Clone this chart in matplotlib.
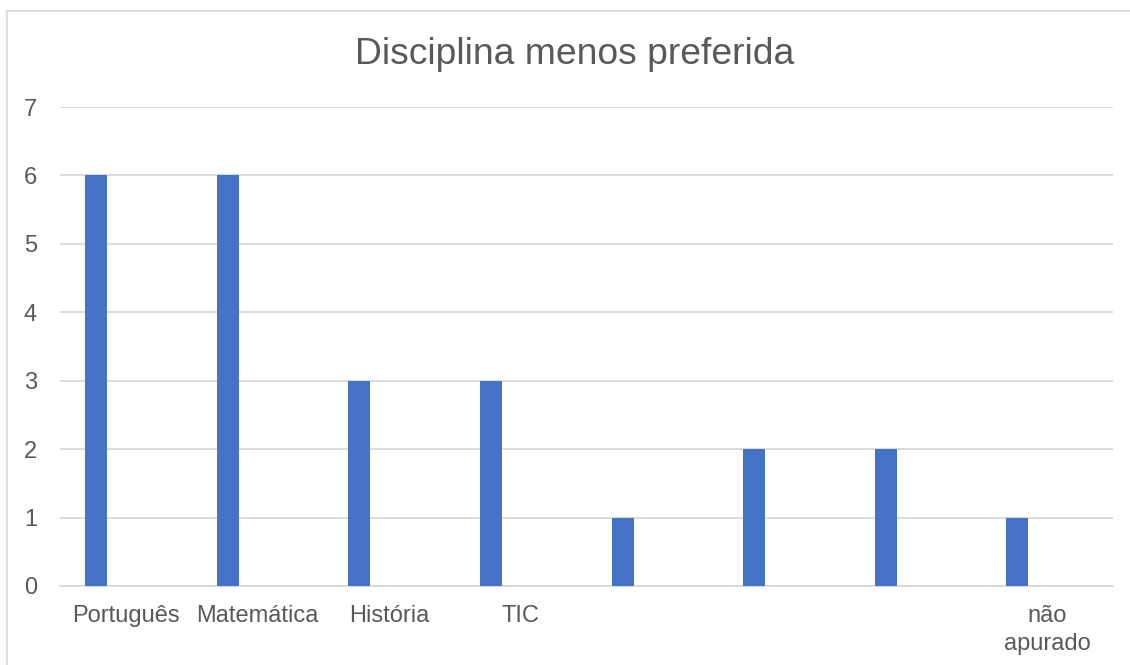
import matplotlib
matplotlib.use("Agg")
import matplotlib.pyplot as plt
from matplotlib.patches import Rectangle

categories = ["Português", "Matemática", "História", "TIC", "", "", "", "não\napurado"]
values = [6, 6, 3, 3, 1, 2, 2, 1]
yticks = [0, 1, 2, 3, 4, 5, 6, 7]
title = "Disciplina menos preferida"

plt.rcParams['font.family'] = ['Liberation Sans', 'DejaVu Sans']

W, H = 1130, 665
fig = plt.figure(figsize=(W / 100, H / 100), dpi=100)
fig.patch.set_facecolor("white")

# outer chart border (cropped on right/bottom)
fig.add_artist(Rectangle((7 / W, -0.05), 1.2, 1 - 11 / H + 0.05, transform=fig.transFigure,
                         fill=False, edgecolor="#D9D9D9", linewidth=1.3))

ax = fig.add_axes([60 / W, 1 - 586 / H, (1113 - 60) / W, (586 - 107) / H])
x = list(range(len(categories)))
bar_offset = -0.226
bar_w = 0.167
ax.bar([xi + bar_offset for xi in x], values, width=bar_w, color="#4472C4", zorder=3)

ax.set_xlim(-0.5, len(categories) - 0.5)
ax.set_ylim(0, 7)
ax.set_yticks(yticks)
ax.set_yticklabels([str(t) for t in yticks], fontsize=17, color="#595959")
ax.set_xticks(x)
ax.set_xticklabels(categories, fontsize=17, color="#595959", linespacing=1.3, va="top")
ax.tick_params(axis="both", length=0)
ax.tick_params(axis="y", pad=16.5)
ax.tick_params(axis="x", pad=14)
ax.grid(axis="y", color="#D9D9D9", linewidth=1.3, zorder=0)
for s in ["top", "right", "left"]:
    ax.spines[s].set_visible(False)
ax.spines["bottom"].set_color("#D9D9D9")
ax.spines["bottom"].set_linewidth(1.3)

fig.text(575 / W, 1 - 55 / H, title, ha="center", va="center", fontsize=26.8, color="#595959")

fig.savefig("out.png", dpi=100)
